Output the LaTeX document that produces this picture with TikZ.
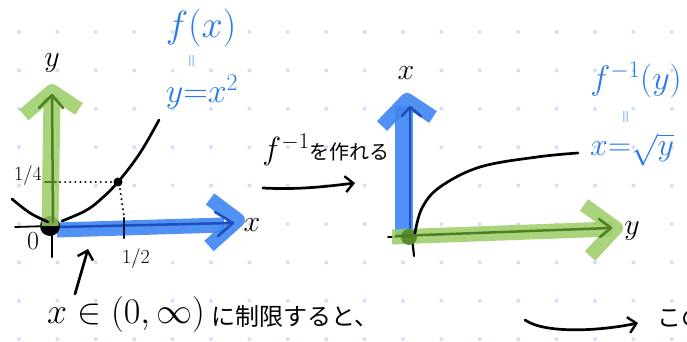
\RequirePackage{fix-cm}
\documentclass[tikz,border=0pt]{standalone}
\usepackage{fontspec}
\newfontfamily\jp{Noto Sans CJK JP}
\usetikzlibrary{arrows.meta}
\definecolor{gdot}{HTML}{CFE0FA}
\definecolor{bband}{HTML}{3F86F2}
\definecolor{bline}{HTML}{1D4EBF}
\definecolor{gband}{HTML}{9CCD66}
\definecolor{gline}{HTML}{4E7F25}
\definecolor{lbl}{HTML}{2A7BEA}
\tikzset{
  bandb/.style={draw=bband,opacity=0.9,line width=15pt,line cap=butt,line join=round},
  bandg/.style={draw=gband,opacity=0.85,line width=15pt,line cap=butt,line join=round},
  innerb/.style={draw=bline,line width=2.5pt,line cap=round,line join=round},
  innerg/.style={draw=gline,line width=2.5pt,line cap=round,line join=round},
  ink/.style={draw=black,line width=2.7pt,line cap=round,line join=round},
  dotl/.style={draw=black,line width=2.2pt,line cap=round,dash pattern=on 0.1pt off 5pt},
  handarrow/.style={ink,-{Straight Barb[length=8pt,width=16pt,line width=2.4pt]}},
  bluelbl/.style={text=lbl,inner sep=0pt},
  blk/.style={text=black,inner sep=0pt},
}
\begin{document}
\begin{tikzpicture}[x=1pt,y=-1pt]
\useasboundingbox (0,0) rectangle (687,342);
\clip (0,0) rectangle (687,342);
\fill[white] (0,0) rectangle (687,342);
% dot grid
\foreach \i in {0,...,17}{\foreach \j in {0,...,8}{
  \fill[gdot] ({19+38.4*\i},{32+38.4*\j}) circle (2pt);}}

% ---------- left graph ----------
\coordinate (O1) at (50,226);
\draw[ink,line width=1.8pt] (15,227) -- (O1);
\draw[ink,line width=2.2pt] (52,236) -- (52,257);
\draw[bandb] (57,230) -- (224,225);
\draw[bandb,line width=14pt] (210,199) -- (238,220) -- (209,246);
\draw[innerb] (60,227) -- (232,223);
\draw[innerb] (215,212) -- (233,223) -- (218,236);
\draw[innerb,draw=black!70!bline] (124,218) -- (124,238);
\fill[black] (O1) circle (10pt);
\draw[bandg,line width=17pt] (50,226) -- (52,97);
\draw[bandg,line width=14pt] (24,115) -- (52,91) -- (79,109);
\draw[innerg] (53,222) -- (52,97);
\draw[innerg] (39,108) -- (52,95) -- (63,108);
\draw[innerg] (45,182) -- (56,182);
% parabola
\draw[ink] plot[smooth,tension=0.6] coordinates {(12,199) (30,213) (48,222)};
\draw[ink] plot[smooth,tension=0.6] coordinates {(62,221) (85,211) (100,200) (118,182) (140,153) (159,120)};
\fill[black] (118,182) circle (4.5pt);
\draw[dotl] (60,182) -- (113,182);
\draw[dotl] (120,189) -- (124,216);
% labels left
\node[blk,font=\fontsize{30}{30}\selectfont] (ly1) at (52,63) {$y$};
\node[blk,font=\fontsize{30}{30}\selectfont] (lx1) at (252,225) {$x$};
\node[blk,font=\fontsize{20}{20}\selectfont] (q14) at (28,175) {1/4};
\node[blk,font=\fontsize{20}{20}\selectfont] (h12) at (136,258) {1/2};
\node[blk,font=\fontsize{26}{26}\selectfont] (o0) at (33,241) {$0$};
\node[bluelbl,font=\fontsize{38}{38}\selectfont] (fx) at (201,28) {$f(x)$};
\node[bluelbl,font=\fontsize{18}{18}\selectfont] (eq1) at (193,61) {\rotatebox{90}{$=$}};
\node[bluelbl,font=\fontsize{34}{34}\selectfont] (yx2) at (202,92) {$y{=}x^2$};
% small pointer arrow
\coordinate (pa1) at (75,294);
\coordinate (pa2) at (88,249);
\draw[handarrow] (pa1) -- (pa2);

% ---------- middle ----------
\node[blk] (mk) at (326,150) {{\fontsize{32}{32}\selectfont$f^{-1}$}{\jp\fontsize{20}{20}\selectfont を作れる}};
\coordinate (ma1) at (263,188);
\coordinate (ma2) at (355,183);
\draw[handarrow] (ma1) .. controls (300,190) and (330,186) .. (ma2);

% ---------- right graph ----------
\coordinate (O2) at (409,237);
\draw[bandb,line width=18pt] (404,237) -- (404,106);
\draw[bandb,line width=14pt] (382,126) -- (407,100) -- (433,117);
\draw[innerb] (410,237) -- (410,108);
\draw[innerb] (402,116) -- (410,107) -- (421,116);
\draw[ink,line width=1.8pt] (388,237) -- (O2);
\draw[ink,line width=2.2pt] (412,237) -- (414,256);
\draw[bandg] (392,237) -- (612,229);
\draw[bandg,line width=14pt] (584,205) -- (616,228) -- (590,256);
\draw[innerg] (396,236) -- (610,228);
\draw[innerg] (599,219) -- (611,228) -- (600,237);
\fill[gline,opacity=0.85] (O2) circle (8pt);
\draw[ink] plot[smooth,tension=0.6] coordinates {(415,233) (422,208) (440,187) (480,167) (537,157) (578,153)};
\node[blk,font=\fontsize{30}{30}\selectfont] (lx2) at (406,73) {$x$};
\node[blk,font=\fontsize{30}{30}\selectfont] (ly2) at (632,231) {$y$};
\node[bluelbl,font=\fontsize{34}{34}\selectfont] (finv) at (636,80) {$f^{-1}(y)$};
\node[bluelbl,font=\fontsize{18}{18}\selectfont] (eq2) at (627,117) {\rotatebox{90}{$=$}};
\node[bluelbl,font=\fontsize{32}{32}\selectfont,anchor=west] (xsq) at (590,150) {$x{=}\sqrt{y}$};

% ---------- bottom ----------
\node[blk,font=\fontsize{36}{36}\selectfont] (r1) at (126,314) {$x\in(0,\infty)$};
\node[blk,font=\jp\fontsize{24}{24}\selectfont,anchor=west] (r2) at (211,316) {に制限すると、};
\coordinate (ba1) at (525,320);
\coordinate (ba2) at (638,323);
\draw[handarrow] (ba1) .. controls (545,334) and (600,331) .. (ba2);
\node[blk,font=\jp\fontsize{24}{24}\selectfont,anchor=west] (r3) at (657,318) {この};
\end{tikzpicture}
\end{document}
